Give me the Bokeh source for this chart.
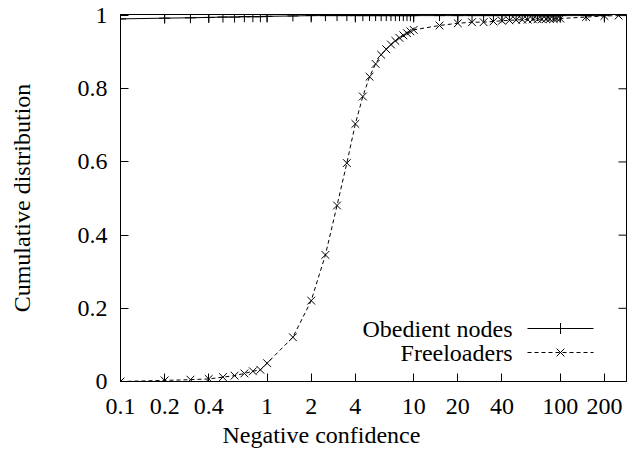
import math
from bokeh.plotting import figure
from bokeh.models import Range1d, FixedTicker, Title
from bokeh.core.properties import value
from bokeh.embed import file_html
from bokeh.resources import INLINE

# ---- data ----
obedient_x = [0.1, 0.2, 0.3, 0.4, 0.5, 0.6, 0.7, 0.8, 0.9, 1,
              1.5, 2, 2.5, 3, 3.5, 4, 4.5, 5, 5.5, 6, 6.5, 7, 7.5, 8, 8.5, 9, 9.5, 10,
              15, 20, 25, 30, 35, 40, 45, 50, 55, 60, 65, 70, 75, 80, 85, 90, 95, 100,
              150, 200]
obedient_y = [0.991, 0.993, 0.994, 0.995, 0.996, 0.996, 0.997, 0.997, 0.997, 0.998,
              0.999, 1.0, 1.0, 1.0, 1.0, 1.0, 1.0, 1.0, 1.0, 1.0, 1.0, 1.0, 1.0, 1.0, 1.0, 1.0, 1.0, 1.0,
              1.0, 1.0, 1.0, 1.0, 1.0, 1.0, 1.0, 1.0, 1.0, 1.0, 1.0, 1.0, 1.0, 1.0, 1.0, 1.0, 1.0, 1.0,
              1.0, 1.0]

free_x = [0.1, 0.2, 0.3, 0.4, 0.5, 0.6, 0.7, 0.8, 0.9, 1,
          1.5, 2, 2.5, 3, 3.5, 4, 4.5, 5, 5.5, 6, 6.5, 7, 7.5, 8, 8.5, 9, 9.5, 10,
          15, 20, 25, 30, 35, 40, 45, 50, 55, 60, 65, 70, 75, 80, 85, 90, 95, 100,
          150, 200, 250]
free_y = [0.0, 0.003, 0.005, 0.007, 0.012, 0.016, 0.022, 0.028, 0.032, 0.050,
          0.121, 0.221, 0.346, 0.481, 0.597, 0.704, 0.779, 0.833, 0.868, 0.893, 0.908, 0.921,
          0.931, 0.939, 0.946, 0.952, 0.957, 0.961,
          0.973, 0.979, 0.982, 0.982, 0.984, 0.986, 0.987, 0.988, 0.989, 0.989, 0.990, 0.990,
          0.990, 0.991, 0.991, 0.991, 0.992, 0.992,
          0.996, 0.999, 1.0]

x_ticks = [0.1, 0.2, 0.4, 1, 2, 4, 10, 20, 40, 100, 200]
x_tick_labels = ["0.1", "0.2", "0.4", "1", "2", "4", "10", "20", "40", "100", "200"]
y_ticks = [0, 0.2, 0.4, 0.6, 0.8, 1.0]
y_tick_labels = ["0", "0.2", "0.4", "0.6", "0.8", "1"]

series_names = ["Obedient nodes", "Freeloaders"]
x_title = "Negative confidence"
y_title = "Cumulative distribution"

# ---- layout ----
W, H = 628, 457
LEFT, RIGHT, TOP, BOTTOM = 120, 2, 14, 76
XMIN, XMAX = 0.1, 283.0
YMIN, YMAX = 0.0, 1.003
FONT = "Liberation Serif"
FS = "24px"

fw = W - LEFT - RIGHT
fh = H - TOP - BOTTOM

def xinv(px):
    lo, hi = math.log10(XMIN), math.log10(XMAX)
    return 10 ** (lo + (px - LEFT) / fw * (hi - lo))

def yinv(py):
    return YMIN + (TOP + fh - py) / fh * (YMAX - YMIN)

p = figure(width=W, height=H, x_axis_type="log",
           x_range=Range1d(XMIN, XMAX), y_range=Range1d(YMIN, YMAX),
           output_backend="svg", toolbar_location=None,
           min_border_left=LEFT, min_border_right=RIGHT,
           min_border_top=TOP, min_border_bottom=BOTTOM)
p.xgrid.visible = False
p.ygrid.visible = False
p.outline_line_color = "black"
p.outline_line_width = 1
p.background_fill_color = "white"
p.border_fill_color = "white"

xa = p.xaxis[0]
xa.ticker = FixedTicker(ticks=x_ticks)
xa.major_label_overrides = {t: l for t, l in zip(x_ticks, x_tick_labels)}
ya = p.yaxis[0]
ya.ticker = FixedTicker(ticks=y_ticks)
ya.major_label_overrides = {t: l for t, l in zip(y_ticks, y_tick_labels)}
ya.axis_label = y_title

for ax in (xa, ya):
    ax.major_tick_in = 8
    ax.major_tick_out = 0
    ax.minor_tick_line_color = None
    ax.axis_line_color = "black"
    ax.major_tick_line_color = "black"
    ax.major_label_text_font = FONT
    ax.major_label_text_font_size = FS
    ax.major_label_text_color = "black"
    ax.axis_label_text_font = FONT
    ax.axis_label_text_font_size = FS
    ax.axis_label_text_font_style = "normal"
    ax.axis_label_text_color = "black"

xa.major_label_standoff = 17
ya.major_label_standoff = 13
ya.axis_label_standoff = 40

# x-axis title: gnuplot centres it on the canvas, not on the frame
xt = Title(text=x_title, align="left", offset=102, standoff=7,
           text_font=FONT, text_font_size=FS, text_font_style="normal", text_color="black")
p.add_layout(xt, "below")

# mirrored ticks on the top and right borders (drawn inward)
nx, ny = len(x_ticks), len(y_ticks)
p.segment(x0=x_ticks, y0=[yinv(TOP + 8)] * nx, x1=x_ticks, y1=[YMAX] * nx,
          line_color="black", line_width=1)
p.segment(x0=[xinv(LEFT + fw - 8)] * ny, y0=y_ticks, x1=[XMAX] * ny, y1=y_ticks,
          line_color="black", line_width=1)

# ---- series ----
MS = 11
p.line(obedient_x, obedient_y, line_color="black", line_width=1)
p.scatter(obedient_x, obedient_y, marker="cross", size=MS, line_color="black", line_width=1)

p.line(free_x, free_y, line_color="black", line_width=1, line_dash="4 3")
p.scatter(free_x, free_y, marker="x", size=MS, line_color="black", line_width=1)

# ---- legend (gnuplot style: text left, sample right) ----
rows_py = [328, 352]
dashes = ["solid", "4 3"]
markers = ["cross", "x"]
for name, py, dash, mk in zip(series_names, rows_py, dashes, markers):
    yy = yinv(py)
    p.text(x=[xinv(512)], y=[yy], text=[name], text_align="right", text_baseline="middle",
           text_font=value(FONT), text_font_size=FS, text_color="black")
    p.line([xinv(527), xinv(593)], [yy, yy], line_color="black", line_width=1, line_dash=dash)
    p.scatter([xinv(560)], [yy], marker=mk, size=MS, line_color="black", line_width=1)

open("out.html", "w").write(file_html(p, INLINE))
